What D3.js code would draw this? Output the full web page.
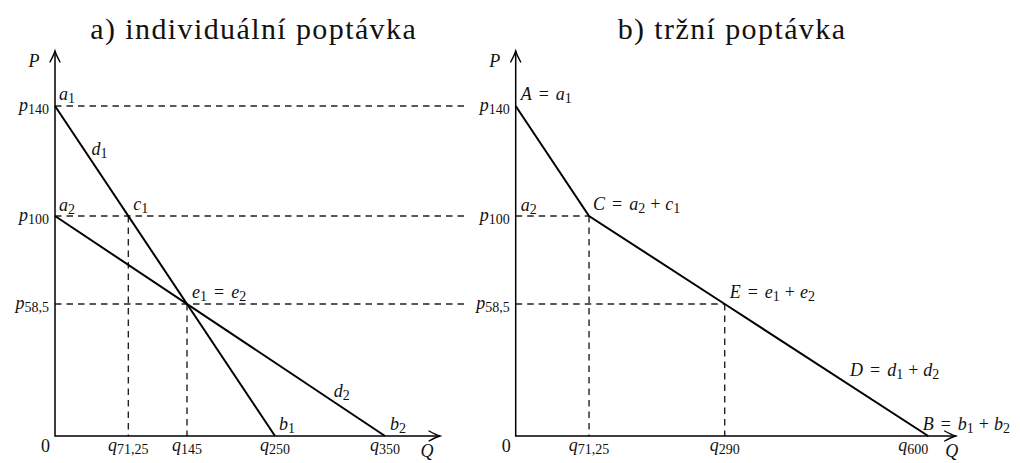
<!DOCTYPE html>
<html>
<head>
<meta charset="utf-8">
<script src="https://cdn.jsdelivr.net/npm/d3@7"></script>
<style>
  html, body { margin: 0; padding: 0; background: #fff; }
  svg { display: block; }
  text { font-family: "Liberation Serif", "Times New Roman", serif; fill: #111; }
</style>
</head>
<body>
<svg id="chart" width="1020" height="463"></svg>
<script>
// ---- Data (values as they are labelled in the figure) ----
const titles = ["a) individuální poptávka", "b) tržní poptávka"];

const priceTicks = [140, 100, 58.5];
const priceTickLabels = ["140", "100", "58,5"];

const qTicksA = [71.25, 145, 250, 350];
const qTickLabelsA = ["71,25", "145", "250", "350"];
const qTicksB = [71.25, 290, 600];
const qTickLabelsB = ["71,25", "290", "600"];

// individual demand curves, points as [Q, P]
const demand1 = [[0, 140], [250, 0]];
const demand2 = [[0, 100], [350, 0]];
// market demand = horizontal sum (kinked at C)
const marketDemand = [[0, 140], [71.25, 100], [290, 58.5], [600, 0]];

// the sketch is not drawn to scale: relative lengths used for each value
const priceSketch = [0, 0.6, 1, 1.5];     // P = 0, 58.5, 100, 140
const qSketchA = [0, 1 / 3, 0.6, 1, 1.5]; // Q = 0, 71.25, 145, 250, 350
const qSketchB = [0, 1 / 3, 0.95, 1.875]; // Q = 0, 71.25, 290, 600

// ---- Layout ----
const UNIT = 220;
const BASE_Y = 436;
const ORIGIN_A = 55;
const ORIGIN_B = 515.7;
const MATH_SIZE = 18;
const SUB_SIZE = 14;
const SUB_DY = 3;

const svg = d3.select("#chart");

const y = d3.scaleLinear()
  .domain([0, ...priceTicks.slice().reverse()])
  .range(priceSketch.map(s => BASE_Y - s * UNIT));
const xA = d3.scaleLinear()
  .domain([0, ...qTicksA])
  .range(qSketchA.map(s => ORIGIN_A + s * UNIT));
const xB = d3.scaleLinear()
  .domain([0, ...qTicksB])
  .range(qSketchB.map(s => ORIGIN_B + s * UNIT));

// ---- little TeX-ish text helper: letters italic, _x / _{xx} subscripts ----
function addMath(textSel, str) {
  let shifted = false, pendingDx = 0, i = 0;
  const put = (s, italic, sub) => {
    const t = textSel.append("tspan").text(s);
    if (italic) t.attr("font-style", "italic");
    if (sub) t.attr("font-size", SUB_SIZE);
    let dy = 0;
    if (sub && !shifted) { dy = SUB_DY; shifted = true; }
    if (!sub && shifted) { dy = -SUB_DY; shifted = false; }
    if (dy) t.attr("dy", dy);
    if (pendingDx) { t.attr("dx", pendingDx); pendingDx = 0; }
  };
  while (i < str.length) {
    const c = str[i];
    if (c === "_") {
      let s;
      if (str[i + 1] === "{") {
        const j = str.indexOf("}", i);
        s = str.slice(i + 2, j);
        i = j + 1;
      } else {
        s = str[i + 1];
        i += 2;
      }
      put(s, false, true);
    } else if (c === "=" || c === "+") {
      const gap = c === "=" ? 7 : 5;
      pendingDx = gap;
      put(c, false, false);
      pendingDx = gap;
      i++;
    } else if (c === " ") {
      i++;
    } else if (/[A-Za-z]/.test(c)) {
      put(c, true, false);
      i++;
    } else {
      put(c, false, false);
      i++;
    }
  }
  return textSel;
}

function mathLabel(g, str, x, yy, anchor) {
  const t = g.append("text")
    .attr("x", x)
    .attr("y", yy)
    .attr("font-size", MATH_SIZE)
    .attr("text-anchor", anchor || "start");
  return addMath(t, str);
}

function arrowHead(g, x, yy, dir) {
  // open TikZ-like arrow tip
  const rot = dir === "up" ? -90 : 0;
  g.append("path")
    .attr("transform", `translate(${x},${yy}) rotate(${rot})`)
    .attr("d", "M-11,-5 Q-4,-1.2 0,0 Q-4,1.2 -11,5")
    .attr("fill", "none")
    .attr("stroke", "#000")
    .attr("stroke-width", 1.4)
    .attr("stroke-linecap", "round");
}

const line = (x) => d3.line().x(d => x(d[0])).y(d => y(d[1]));

function drawAxes(g, x, xLen) {
  const x0 = x(0), y0 = y(0);
  const yTop = y0 - 1.75 * UNIT;
  const xEnd = x0 + xLen * UNIT;
  g.append("path")
    .attr("d", `M${x0},${yTop}V${y0}H${xEnd}`)
    .attr("fill", "none")
    .attr("stroke", "#000")
    .attr("stroke-width", 1.5);
  arrowHead(g, x0, yTop, "up");
  arrowHead(g, xEnd, y0, "right");
  mathLabel(g, "P", x0 - 21, 67, "middle");
  mathLabel(g, "0", x0 - 5, 452, "end");
  return xEnd;
}

function dashed(g, x1, y1, x2, y2) {
  g.append("line")
    .attr("x1", x1).attr("y1", y1)
    .attr("x2", x2).attr("y2", y2)
    .attr("stroke", "#222")
    .attr("stroke-width", 1.4)
    .attr("stroke-dasharray", "6.5,5");
}

function solid(g, data, x) {
  g.append("path")
    .datum(data)
    .attr("d", line(x))
    .attr("fill", "none")
    .attr("stroke", "#000")
    .attr("stroke-width", 2)
    .attr("stroke-linejoin", "miter");
}

// ---- Titles ----
svg.selectAll("text.title")
  .data(titles)
  .join("text")
  .attr("class", "title")
  .attr("x", (d, i) => i === 0 ? 253.7 : 732)
  .attr("y", 39)
  .attr("text-anchor", "middle")
  .attr("font-size", 30)
  .attr("letter-spacing", 1.4)
  .text(d => d);

// ---- Panel a) individual demand ----
const gA = svg.append("g");

// guide lines
priceTicks.forEach(p => dashed(gA, xA(0), y(p), ORIGIN_B - 50, y(p)));
dashed(gA, xA(71.25), y(100), xA(71.25), y(0));
dashed(gA, xA(145), y(58.5), xA(145), y(0));

solid(gA, demand1, xA);
solid(gA, demand2, xA);

const xEndA = drawAxes(gA, xA, 1.75);
mathLabel(gA, "Q", xEndA - 13, 457, "middle");

priceTicks.forEach((p, i) => mathLabel(gA, "p_{" + priceTickLabels[i] + "}", xA(0) - 6, y(p) + 5, "end"));
qTicksA.forEach((q, i) => mathLabel(gA, "q_{" + qTickLabelsA[i] + "}", xA(q), 451, "middle"));

// point labels: [text, Q, P, dx, dy]
const notesA = [
  ["a_1", 0, 140, 4, -6],
  ["a_2", 0, 100, 4, -5],
  ["c_1", 71.25, 100, 5, -6],
  ["e_1 = e_2", 145, 58.5, 5, -6],
  ["b_1", 250, 0, 4, -6],
  ["b_2", 350, 0, 5, -6]
];
notesA.forEach(([s, q, p, dx, dy]) => mathLabel(gA, s, xA(q) + dx, y(p) + dy));

// curve names, placed along their line
const along = (x, seg, t) => [
  x(seg[0][0]) + t * (x(seg[1][0]) - x(seg[0][0])),
  y(seg[0][1]) + t * (y(seg[1][1]) - y(seg[0][1]))
];
let pt = along(xA, demand1, 0.13);
mathLabel(gA, "d_1", pt[0] + 8, pt[1] + 6);
pt = along(xA, demand2, 0.845);
mathLabel(gA, "d_2", pt[0], pt[1] - 5);

// ---- Panel b) market demand ----
const gB = svg.append("g");

dashed(gB, xB(0), y(100), xB(71.25), y(100));
dashed(gB, xB(0), y(58.5), xB(290), y(58.5));
dashed(gB, xB(71.25), y(100), xB(71.25), y(0));
dashed(gB, xB(290), y(58.5), xB(290), y(0));

solid(gB, marketDemand, xB);

const xEndB = drawAxes(gB, xB, 2.0);
mathLabel(gB, "Q", xEndB - 4, 457, "middle");

priceTicks.forEach((p, i) => mathLabel(gB, "p_{" + priceTickLabels[i] + "}", xB(0) - 6, y(p) + 5, "end"));
qTicksB.forEach((q, i) => {
  const last = i === qTicksB.length - 1;
  mathLabel(gB, "q_{" + qTickLabelsB[i] + "}", xB(q), 451, last ? "end" : "middle");
});

const notesB = [
  ["A = a_1", 0, 140, 5, -6],
  ["a_2", 0, 100, 5, -5],
  ["C = a_2 + c_1", 71.25, 100, 4, -6],
  ["E = e_1 + e_2", 290, 58.5, 5, -6],
  ["B = b_1 + b_2", 600, 0, -5.5, -6]
];
notesB.forEach(([s, q, p, dx, dy]) => mathLabel(gB, s, xB(q) + dx, y(p) + dy));

pt = along(xB, [marketDemand[2], marketDemand[3]], 0.616);
mathLabel(gB, "D = d_1 + d_2", pt[0], pt[1] - 9);
</script>
</body>
</html>
